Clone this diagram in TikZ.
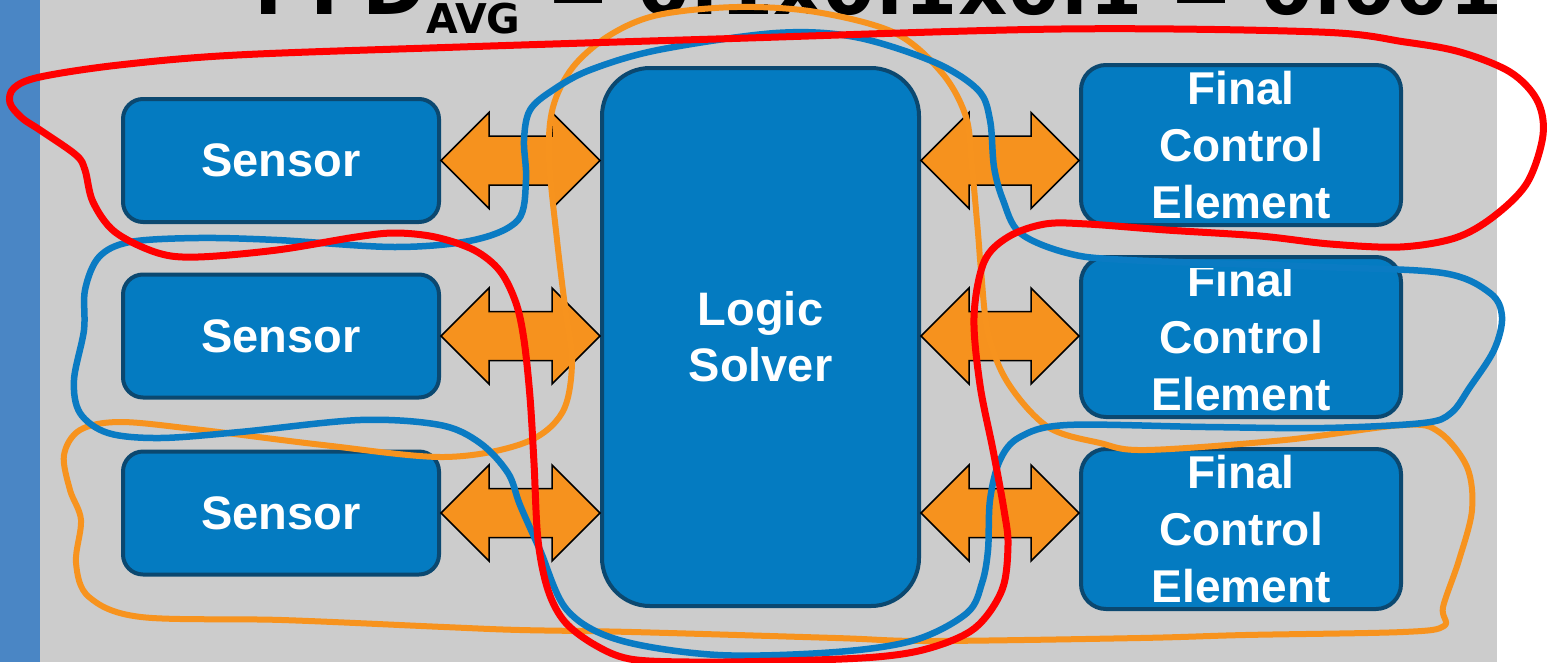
\documentclass[tikz,border=0pt]{standalone}
\usepackage{fontspec}
\setmainfont{Liberation Sans}
\newfontfamily\hdrfont{DejaVu Sans}
\usetikzlibrary{calc}
\definecolor{stripblue}{HTML}{4A86C5}
\definecolor{bggray}{HTML}{CCCCCC}
\definecolor{boxfill}{HTML}{047BC1}
\definecolor{boxline}{HTML}{0B4870}
\definecolor{arrorange}{HTML}{F6921E}
\definecolor{penred}{HTML}{FF0000}
\definecolor{penblue}{HTML}{0A7BC3}
\definecolor{penorange}{HTML}{F7931E}
\tikzset{
 block/.style={draw=boxline, line width=4pt, fill=boxfill, inner sep=0pt, text=white,
   font=\fontsize{47}{56}\selectfont\bfseries, align=center},
 sensorbox/.style={block, minimum width=316pt, minimum height=123pt, rounded corners=20pt},
 solverbox/.style={block, minimum width=317pt, minimum height=538pt, rounded corners=48pt},
 fcebox/.style={block, minimum width=320pt, minimum height=160pt, rounded corners=25pt},
 fcetext/.style={inner sep=0pt, text=white, font=\fontsize{46}{57}\selectfont\bfseries, align=center},
 dblarrow/.style={draw=black, line width=1.5pt, fill=arrorange, line join=miter},
 pen/.style={line width=6.5pt, line cap=round, line join=round},
}
\newcommand{\dblarrowpath}[2]{%
  \path[dblarrow] let \p1=(#1), \p2=(#2) in
  (\x1,\y1) -- (\x1+48pt,\y1+48pt) -- (\x1+48pt,\y1+24.5pt) -- (\x2-48pt,\y1+24.5pt)
  -- (\x2-48pt,\y1+48pt) -- (\x2,\y1) -- (\x2-48pt,\y1-48pt) -- (\x2-48pt,\y1-24.5pt)
  -- (\x1+48pt,\y1-24.5pt) -- (\x1+48pt,\y1-48pt) -- cycle;}
\begin{document}
\begin{tikzpicture}[x=1pt,y=-1pt]
\useasboundingbox (0,0) rectangle (1549,662);
\fill[white] (0,0) rectangle (1549,662);
\fill[bggray] (40,0) rectangle (1497,662);
\fill[stripblue] (0,0) rectangle (40,662);

% header formula (cut off at the top)
\node[anchor=base west, inner sep=0pt, font=\hdrfont\bfseries\fontsize{76.5}{76.5}\selectfont] (hdr) at (254,14)
  {PFD\raisebox{-19pt}{\fontsize{41}{41}\selectfont AVG} = 0.1x0.1x0.1 = 0.001};

% blocks
\node[sensorbox] (s1) at (281,160.5) {Sensor};
\node[sensorbox] (s2) at (281,336) {Sensor};
\node[sensorbox] (s3) at (281,513) {Sensor};
\node[solverbox] (ls) at (760.5,337) {Logic\\Solver};
\node[fcebox] (f1) at (1241,145) {};
\node[fcebox] (f2) at (1241,337) {};
\node[fcebox] (f3) at (1241,529) {};

\begin{scope}
\clip ([yshift=-6pt]f1.north west) rectangle ([yshift=7pt]f1.south east);
\node[fcetext] (f1t) at (f1.center) {Final\\Control\\Element};
\end{scope}
\begin{scope}
\clip ([yshift=-13pt]f2.north west) rectangle ([yshift=7pt]f2.south east);
\node[fcetext] (f2t) at (f2.center) {Final\\Control\\Element};
\end{scope}
\begin{scope}
\clip ([yshift=-6pt]f3.north west) rectangle ([yshift=7pt]f3.south east);
\node[fcetext] (f3t) at (f3.center) {Final\\Control\\Element};
\end{scope}

% double arrows
\dblarrowpath{s1.east}{ls.west |- s1.east}
\dblarrowpath{s2.east}{ls.west |- s2.east}
\dblarrowpath{s3.east}{ls.west |- s3.east}
\dblarrowpath{ls.east |- s1.east}{f1.west |- s1.east}
\dblarrowpath{ls.east |- s2.east}{f2.west |- s2.east}
\dblarrowpath{ls.east |- s3.east}{f3.west |- s3.east}

% hand-drawn loops
\draw[pen, penorange, line width=6pt] plot[smooth cycle, tension=0.55] coordinates {
 (658,15) (737,7) (816,12) (895,33) (942,73) (966,117) (972,167) (978,233) (981,270)
 (988,333) (1008,383) (1048,427) (1100,443) (1146,450) (1285,440) (1403,425) (1439,432)
 (1467,467) (1472,510) (1459,560) (1443,607) (1444,626) (1403,632) (1245,635) (1140,638)
 (929,641) (836,638) (632,632) (520,630) (444,627) (282,620) (141,617) (89,597) (76,563)
 (81,520) (70,490) (64,455) (80,430) (121,422) (202,430) (323,445) (444,457) (524,443)
 (562,413) (572,363) (565,307) (557,240) (549,157) (553,107) (573,67) (610,35)};
\draw[pen, penblue] plot[smooth cycle, tension=0.55] coordinates {
 (658,50) (776,33) (855,37) (934,62) (978,90) (990,120) (994,167) (1003,200) (1020,233)
 (1067,253) (1127,260) (1324,267) (1443,273) (1490,293) (1502,317) (1494,350) (1470,387)
 (1451,413) (1423,423) (1324,428) (1206,427) (1067,425) (1020,437) (1000,460) (990,500)
 (988,550) (982,583) (967,613) (915,640) (836,652) (718,655) (619,640) (567,610) (540,550)
 (520,505) (508,473) (480,443) (440,425) (360,420) (240,432) (160,438) (108,433) (80,413)
 (74,380) (84,330) (85,290) (99,257) (130,242) (198,238) (277,240) (395,247) (474,240)
 (518,220) (526,180) (524,140) (530,110) (553,90) (590,70)};
\draw[pen, penred, line width=7pt] plot[smooth cycle, tension=0.55] coordinates {
 (40,77) (119,65) (237,55) (460,47) (716,39) (1061,29) (1319,32) (1405,42) (1460,52)
 (1510,72) (1537,100) (1543,135) (1527,183) (1493,217) (1455,238) (1400,247) (1330,244)
 (1260,236) (1166,230) (1087,224) (1045,224) (1008,237) (984,262) (974,317) (980,385)
 (993,450) (1004,510) (1008,545) (1002,590) (975,628) (930,648) (876,657) (780,661)
 (690,662) (630,659) (595,645) (565,622) (548,590) (538,540) (534,463) (530,397)
 (524,340) (516,303) (500,271) (474,250) (435,237) (395,233) (356,237) (277,250)
 (198,257) (158,253) (115,232) (93,202) (85,170) (76,155) (40,130) (22,118) (10,103) (14,88)};
\end{tikzpicture}
\end{document}
